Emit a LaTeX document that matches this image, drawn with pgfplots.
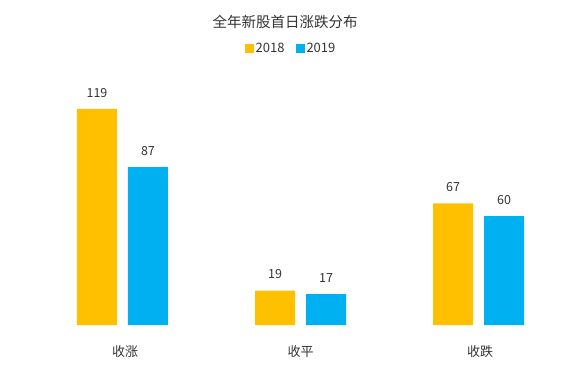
\documentclass[border=0pt]{standalone}
\usepackage{pgfplots}
\pgfplotsset{compat=1.18}
\usepackage{fontspec}
\setmainfont{Noto Sans CJK SC}
\definecolor{cgold}{HTML}{FFC000}
\definecolor{cblue}{HTML}{00B0F0}
\definecolor{ctext}{HTML}{333333}
\begin{document}
\begin{tikzpicture}
\useasboundingbox (0,0) rectangle (582pt,368pt);
\begin{axis}[
  at={(0pt,43pt)}, anchor=south west,
  scale only axis,
  width=582pt, height=272.3pt,
  xmin=-0.688, xmax=2.581,
  ymin=0, ymax=150,
  axis lines=none,
  ybar, bar width=40pt,
  xtick=\empty, ytick=\empty,
  /pgf/number format/assume math mode=true,
  nodes near coords,
  every node near coord/.append style={font=\fontsize{12.5}{14}\selectfont, text=ctext, yshift=8pt},
  legend style={at={(axis description cs:0.5,1.0136)}, anchor=center, draw=none, legend columns=2,
    font=\fontsize{13}{14}\selectfont, text=ctext,
    /tikz/every even column/.append style={column sep=9pt}},
  legend image code/.code={\fill[#1] (0pt,-4.5pt) rectangle (9pt,4.5pt);},
]
\addplot[fill=cgold, draw=none, bar shift=-25.5pt] coordinates {(0,119) (1,19) (2,67)};
\addplot[fill=cblue, draw=none, bar shift=25.5pt] coordinates {(0,87) (1,17) (2,60)};
\legend{2018,2019}
\end{axis}
\node[font=\fontsize{14.5}{16}\selectfont, text=ctext] at (285pt,346pt) {全年新股首日涨跌分布};
\node[font=\fontsize{13}{14}\selectfont, text=ctext] at (125pt,16pt) {收涨};
\node[font=\fontsize{13}{14}\selectfont, text=ctext] at (300.5pt,16pt) {收平};
\node[font=\fontsize{13}{14}\selectfont, text=ctext] at (480pt,16pt) {收跌};
\end{tikzpicture}
\end{document}
